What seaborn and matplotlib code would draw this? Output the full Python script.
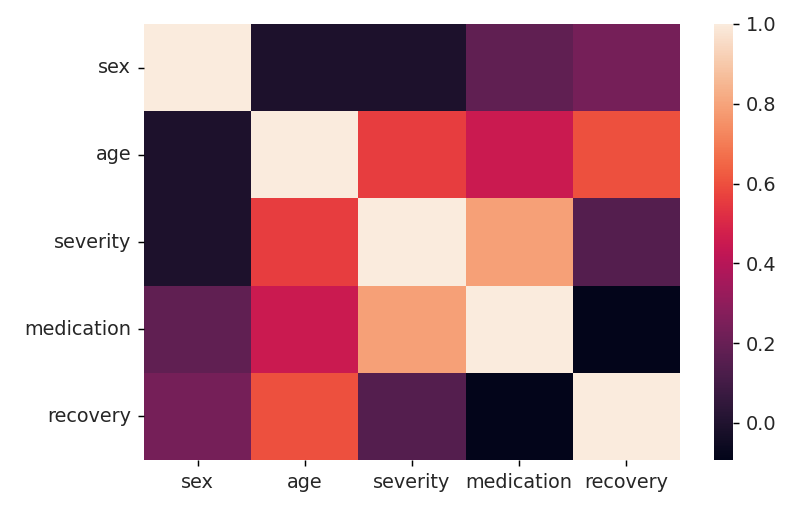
import numpy as np
import pandas as pd
import matplotlib
matplotlib.use("Agg")
import matplotlib.pyplot as plt
import seaborn as sns

labels = ["sex", "age", "severity", "medication", "recovery"]
row_sex = [1.00, -0.01, -0.01, 0.18, 0.235]
row_age = [-0.01, 1.00, 0.56, 0.45, 0.60]
row_severity = [-0.01, 0.56, 1.00, 0.79, 0.15]
row_medication = [0.18, 0.45, 0.79, 1.00, -0.093]
row_recovery = [0.235, 0.60, 0.15, -0.093, 1.00]

corr = pd.DataFrame([row_sex, row_age, row_severity, row_medication, row_recovery],
                    index=labels, columns=labels)

plt.rcParams["font.size"] = 10.5
plt.rcParams["xtick.labelsize"] = 10.5
plt.rcParams["ytick.labelsize"] = 10.5
plt.rcParams["text.color"] = "#262626"
plt.rcParams["xtick.labelcolor"] = "#262626"
plt.rcParams["ytick.labelcolor"] = "#262626"

fig = plt.figure(figsize=(798 / 132, 512 / 132), dpi=132)
ax = fig.add_axes([144 / 798, 1 - 460 / 512, (680 - 144) / 798, (460 - 24) / 512])
cax = fig.add_axes([714 / 798, 1 - 460 / 512, 19 / 798, (460 - 24) / 512])

sns.heatmap(corr, ax=ax, cbar_ax=cax)
ax.set_yticklabels(labels, rotation=0)
ax.set_xticklabels(labels, rotation=0)

fig.savefig("out.png", dpi=132)
